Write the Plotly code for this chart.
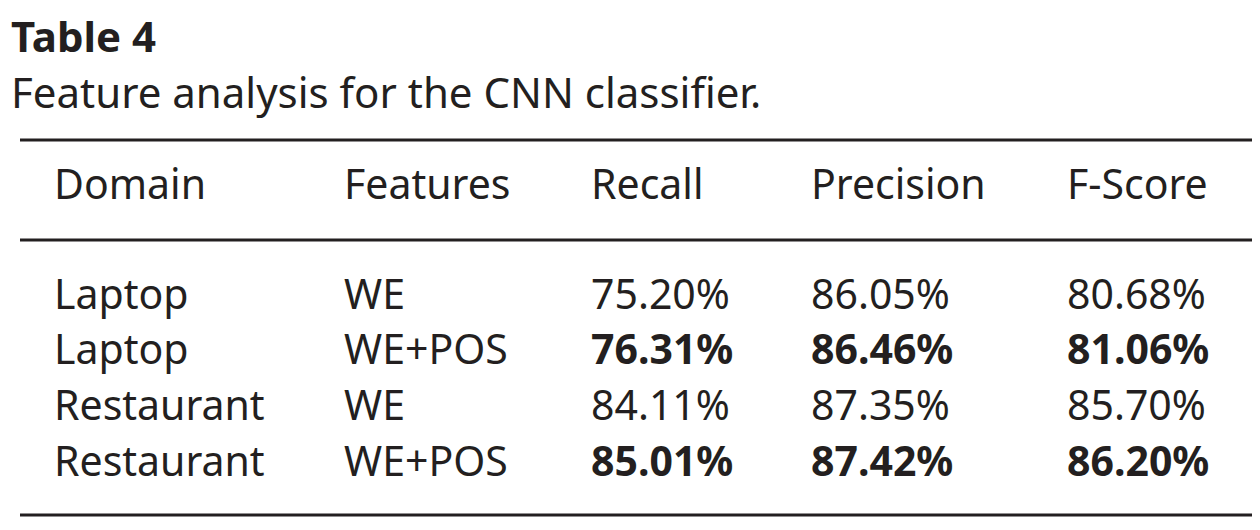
import plotly.graph_objects as go

title = "Table 4"
subtitle = "Feature analysis for the CNN classifier."
headers = ["Domain", "Features", "Recall", "Precision", "F-Score"]
domains = ["Laptop", "Laptop", "Restaurant", "Restaurant"]
features = ["WE", "WE+POS", "WE", "WE+POS"]
recall = ["75.20%", "76.31%", "84.11%", "85.01%"]
precision = ["86.05%", "86.46%", "87.35%", "87.42%"]
fscore = ["80.68%", "81.06%", "85.70%", "86.20%"]
bold_rows = [False, True, False, True]

col_x = [44, 334, 581, 801, 1057]
row_y = [285, 340, 396, 452]
FONT = "Noto Sans"
C = "#231f20"
FS = 41

fig = go.Figure()
ann = []
ann.append(dict(x=1, y=27, text="<b>%s</b>" % title, font=dict(size=42, family=FONT, color=C)))
ann.append(dict(x=1, y=83, text=subtitle, font=dict(size=42, family=FONT, color=C)))
for x, h in zip(col_x, headers):
    ann.append(dict(x=x, y=175, text=h, font=dict(size=FS, family=FONT, color=C)))
for i in range(len(domains)):
    vals = [domains[i], features[i], recall[i], precision[i], fscore[i]]
    for j, (x, v) in enumerate(zip(col_x, vals)):
        t = "<b>%s</b>" % v if (bold_rows[i] and j >= 2) else v
        ann.append(dict(x=x, y=row_y[i], text=t, font=dict(size=FS, family=FONT, color=C)))
for a in ann:
    a.update(xref="x", yref="y", xanchor="left", yanchor="middle", showarrow=False)

shapes = []
for y in [132, 232, 507]:
    shapes.append(dict(type="line", xref="x", yref="y", x0=12, x1=1255, y0=y, y1=y,
                       line=dict(color=C, width=3)))

fig.update_layout(width=1260, height=530, margin=dict(l=0, r=0, t=0, b=0),
                  paper_bgcolor="white", plot_bgcolor="white",
                  annotations=ann, shapes=shapes,
                  xaxis=dict(range=[0, 1260], visible=False, fixedrange=True),
                  yaxis=dict(range=[530, 0], visible=False, fixedrange=True),
                  showlegend=False)
fig.write_html("out.html")
